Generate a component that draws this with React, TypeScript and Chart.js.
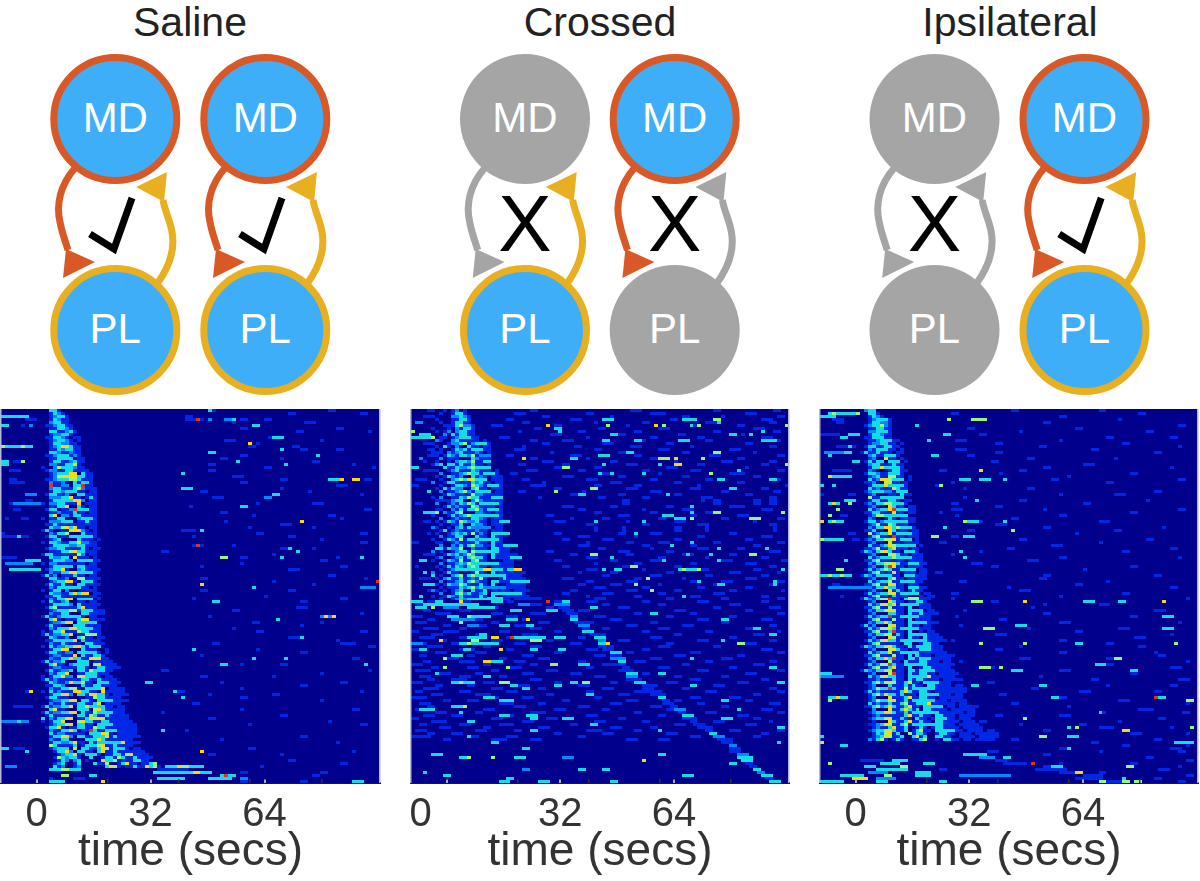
import React, { useEffect, useRef } from "react";
import { Chart, registerables } from "chart.js";
Chart.register(...registerables);

type Streak = [number, number, number, number];

const ROWS = 125;
const COLS = 95;
const T_MIN = -10;
const T_MAX = 96.4;
const grayTicks = [0, 32, 64];
const darkTicks = [20, 40, 60, 80];
const levelColors = ["#0028E4", "#0088FF", "#14DCE6", "#96F878", "#FFD800", "#E63212"];

const salineBandStart = 10;
const salineBand = [
"00331","001321","0012331","0013211","00233110","01123311","00113321","003311231","001223310","0113321011",
"0012332101","00133221100","00123553110","00113233110","00332112110","01123331210","00113333011","00133112311","00221133510","100243332110",
"012211331111","0012333550311","0012455553311","0112333443111","0021122331011","0061122033611","00233011352111","00133223311011","01331122033111","00222335110131",
"00133301552011","10223314450111","00113355331011","01330112633111","00112233311011","00350221331111","10113355220311","00222333011311","01133223311111","00322443511011",
"13100335552101","00213345113111","01330113311011","001233350311101","10332113351111","00133002233111","012233130331011","00111334503111","13311233442011","00322335511101",
"001333220331111","10221133511011","00135533033111","012335102231111","00211335533011","13120333311011","003311233441111","00123355100311","013113330331111","00213355031101",
"10133022351111","003221135331011","01133244011111","002133550331101","10311233511011","001335220311111","01341102335111","0012333441101111","0021133520331111","13112233331011",
"0035103323551111","00122355033101","013113223331111","002133355011311","101335220433111","131223350113111","0032112533411011","011332335031111","0021133441033111","103122335531011",
"00133552033111001","01331122033441101","0012233550311331","00211335331135111","131223350333011111","0035110233330451111","00122355033101331111","013112230331431111","00213355011333111","101335220453311011",
"1312233501331131111","00321125334110331111","0113323350311331111","002113344103313501111","103122335533110511111","0013355203311033101111","01331112330114331111","0012233550331033311111","00211335333113501111","131223350335311111011",
"003511023333045311111","131223355031143511111","0131122303314311311111","3021335501133335111111","10133522045331133111111","001233450331103331111111","013351020331143311111111","002113353011631133111111","003122335110333541011111","0013355203311033513111111",
"00211335110333531111111","0013322351103133111351111","00431233301333451131111","0012333050331135413111011","00013352033110351131111111","000012335103331011331451111","0001432331003001331431131111","000013202301000533411113311","00012300130003114001351101134","000312001200000035410113115341",
];
const salinePatches: Streak[] = [
[24,16,2,0],[24,20,2,3],[26,15,3,1],[27,16,2,3],[28,17,2,0],[30,14,4,3],[31,16,3,1],[32,17,2,0],[33,19,3,3],[34,15,3,1],[36,16,3,0],[36,20,3,3],[38,14,5,1],[39,16,1,5],[40,15,2,1],[41,17,3,0],[42,19,4,3],[43,15,3,0],[44,20,2,2],[45,14,3,3],[46,17,3,1],[47,19,2,3],[48,15,4,1],[49,17,1,0],[50,20,3,3],[51,16,3,1],[52,14,3,3],[53,17,2,0],[54,19,4,3],[55,15,3,1],[56,17,2,0],[57,20,3,3],[58,16,2,1],[59,14,5,3],[60,17,3,0],[61,20,2,5],[62,15,4,1],[63,19,4,3],[64,17,2,0],[65,14,3,3],[66,16,3,1],[67,20,3,3],[68,17,2,0],[69,15,5,3],[70,16,3,1],[71,21,3,3],[72,15,3,0],[73,19,3,3],[74,16,3,1],[75,21,3,4],[76,17,2,0],[77,14,3,3],[78,16,4,1],[79,22,3,3],[80,17,3,0],[81,20,4,3],[82,15,3,1],[83,22,3,5],[84,16,3,0],[85,19,3,3],[86,15,4,1],[87,23,3,3],[88,17,2,0],[89,21,3,3],[90,14,5,1],[91,24,3,3],[92,16,3,0],[93,21,4,3],[94,15,3,1],[95,22,2,5],[96,17,3,0],[97,25,3,3],[98,16,3,1],[99,22,4,3],[100,17,2,0],[101,25,3,3],[102,15,3,1],[103,22,3,5],[104,16,3,0],[105,24,4,3],[106,17,2,1],[107,27,2,3],[108,16,4,1],[109,23,3,3],[110,17,3,0],[111,26,3,3],[112,15,3,1],[113,28,3,3],
];
const salineStreaks: Streak[] = [
[2,0,7,3],[3,6,3,1],[5,0,2,3],[5,5,1,1],[5,7,1,2],[12,0,8,3],[12,0,1,4],[12,5,1,4],[17,0,2,3],[17,5,1,4],[18,0,2,3],[17,3,3,1],[20,2,3,1],[23,2,2,1],[24,2,4,1],[28,6,3,2],[30,6,2,1],[31,3,7,2],[31,2,3,1],[33,3,2,1],[36,5,2,1],[36,1,1,1],[41,0,1,1],[42,0,7,1],[42,4,1,3],[51,1,7,2],[50,6,4,3],[53,2,8,3],[49,0,4,1],[94,7,1,5],[94,6,1,1],[99,3,5,1],[104,0,7,2],[104,4,1,3],[113,0,2,3],[113,3,3,1],[114,6,1,3],[119,1,3,2],
[0,52,1,3],[3,49,1,6],[3,46,5,1],[3,52,1,2],[3,56,3,2],[3,58,1,3],[5,63,2,3],[9,68,3,3],[11,62,1,5],[13,70,1,3],[14,52,2,3],[15,79,1,3],[18,52,2,1],[18,71,1,3],[17,59,1,3],[17,78,2,1],[21,45,1,3],[23,82,3,3],[23,85,1,5],[23,88,2,5],[26,45,3,3],[28,68,2,3],[29,66,2,2],[32,60,2,3],[37,75,1,5],[40,45,4,1],[40,50,1,3],[45,48,3,1],[45,49,1,6],[46,70,3,1],[46,72,1,3],[47,74,1,3],[49,55,2,4],[49,70,1,3],[49,90,1,3],[58,50,1,5],[59,63,1,3],[59,90,4,2],[57,94,1,6],[64,53,2,3],[69,80,4,2],[69,81,1,5],[69,83,1,5],[70,69,1,3],[76,75,1,3],[78,85,4,1],[80,48,1,3],[83,63,1,3],[83,71,1,3],[85,55,2,3],[85,91,1,3],
[91,36,2,3],[94,43,1,3],[96,45,1,3],[107,40,1,3],[114,50,1,5],
[119,41,10,3],[119,44,1,5],[119,45,2,4],[120,12,8,3],[120,15,2,4],[120,39,8,1],[121,38,13,3],[121,48,2,5],[121,51,2,3],[122,55,4,3],[122,56,1,6],[122,15,2,4],[122,22,2,3],[123,39,7,3],[123,52,6,3],[123,12,1,1],[123,18,3,1],[124,25,1,5],[124,12,4,3],[124,60,2,1],[124,75,2,1],[124,88,3,3],[122,78,2,1],[123,60,2,2],[121,60,2,1],
];
const salineTexture = [
[52,2,82,2],[72,2,90,2],[46,2],[60,2,66,2],[58,1,76,3],[],[60,2,84,2],[74,2,92,1],[],[67,2],[56,3,80,1],[64,1],[62,2,73,2],[75,2,84,2],[],[60,2],[55,2,70,1],[],[88,1],[66,2,93,1],[52,2],[95,1],[58,3],[70,2,91,2],[60,2],[84,3],[70,1],[50,2,77,1],[90,1],[53,3],[],[78,3,64,1],[47,1],[91,2],[55,2],[63,1,82,2],[85,1],[56,1],[70,3],[78,1,62,1],[],[64,2,90,2],[48,1,72,2],[80,1],[90,2],[58,1],[78,1],[40,2],[68,1],[60,2,84,1],[80,2],[60,1],[85,2,50,1],[72,3],[],[82,2],[50,2,91,1],[68,1],[78,1],[],[50,2,72,2],[],[66,1],[85,2,48,1],[75,2],[],[74,3],[58,2],[90,1],[52,1],[],[63,2,80,1],[75,1],[58,1],[90,2,64,2],[],[72,3],[84,1],[53,2],[92,2],[64,1],[75,2],[50,1],[88,2],[],[60,1,70,2],[],[40,2,92,1],[80,1],[50,2,68,1],[],[55,1,85,2],[75,2],[60,1],[44,2,90,1],[52,1,68,2],[60,2],[80,1],[48,2],[],[88,2,60,1],[40,1],[70,2],[52,2],[82,1],[62,1,90,2],[],[46,1],[],[75,2],[55,1],[84,1],[],[62,2],[88,1],[52,2,70,1],[],[72,2],[85,2],[65,1],[],[80,2],[],[],
];

const crossedBandStart = 5;
const crossedBand = [
"00010120100","00100133100","00000223210","01000113310","00100133110","00000134221","10001021331","01012023311","00020313311","001101233311",
"02100231311101","000012234121011","010310235311011","001001323113211","111021234312101","000132133241101","002011122332111","010010233241111","123002134231101","000311322342111",
"01001232433211101","002001123433110110","010132121331210111","001002343543110111","200133114232311011","001001332143211011","010313221334110111","002011234211211011","000132123342211111","102001132433111011",
"001012331324211111","020012132431311011","000131234243111101","011002131334211111","000211344332211011","100013123431411101","002001231433210111","010132143223110111","001001134232210111","200010231344111011",
"001301241432110111","0100123231412103111","002011332433110311","100132141332310111","011001232413110311","00200213134221131111","01013224432111033111","20100123314231031111","0001323124311103101111","012001231343310311111",
"100132141234110311111","002011232431410331111","010131321343110133111","00101233423121103111111","200131132314110335111111","00100234134331100331111","010231132421410331311111","002011231342110331111111","010132243114310331011111","001011132342311033111111",
"2001012314311303311101111","002001342311230331011111","1001321314213103311111111","0010012323143113311101111111",
];
const crossedPatches: Streak[] = [
[10,13,2,1],[11,16,3,3],[12,12,2,0],[13,15,3,3],[14,13,2,1],[15,17,3,2],[16,12,3,0],[17,18,2,3],[18,13,2,1],[19,16,4,3],[20,12,3,1],[21,18,3,3],[22,13,2,0],[23,16,3,3],[24,12,3,1],[25,19,3,3],[26,13,2,0],[27,16,4,3],[28,12,3,1],[29,20,3,3],[30,13,2,0],[31,18,4,3],[32,12,3,1],[33,19,3,3],[34,13,3,0],[35,16,6,3],[36,12,3,1],[37,22,3,3],[38,13,2,0],[39,15,5,2],[40,12,4,1],[41,21,4,3],[42,13,3,0],[43,17,5,3],[44,12,3,1],[45,23,4,3],[46,13,2,0],[47,16,6,3],[48,21,2,1],[49,25,3,3],[50,13,2,1],[50,20,3,0],[51,16,4,3],[52,21,2,1],[53,13,10,3],[53,18,2,5],[53,24,4,3],[53,26,2,5],[54,12,3,0],[54,21,2,1],[55,17,6,3],[56,13,2,1],[56,20,2,0],[57,25,5,3],[58,14,3,1],[58,21,2,0],[59,18,6,2],[60,13,2,0],[60,20,2,1],[61,22,6,3],[62,13,3,1],[62,21,2,0],[63,15,8,3],
];
const crossedStreaks: Streak[] = [
[0,4,2,1],[2,3,3,1],[4,1,2,2],[5,8,2,1],[7,0,1,4],[8,2,3,3],[9,0,6,3],[9,5,1,4],[11,3,3,1],[13,4,2,1],[15,4,3,1],[16,2,1,2],[17,3,1,1],[18,9,2,3],[19,0,2,3],[20,3,3,1],[23,1,3,1],[25,0,2,1],[27,4,1,3],[30,6,4,1],[31,1,2,1],[34,3,3,3],[34,6,1,4],[37,3,2,1],[39,5,2,1],[41,4,1,1],[42,7,1,2],[44,0,2,1],[46,6,2,3],[48,3,3,1],[50,2,2,3],[52,1,1,1],[54,3,1,3],[55,5,1,3],[56,2,3,1],[58,3,3,3],[60,4,3,1],[62,2,1,3],
[3,48,3,3],[5,49,1,4],[5,61,1,5],[5,63,1,4],[5,70,1,3],[5,72,1,4],[3,68,4,3],[3,76,2,4],[4,77,1,3],[8,50,2,3],[8,80,2,3],[8,85,1,3],[7,88,1,3],[5,94,1,4],[10,48,2,3],[10,56,2,3],[10,67,3,3],[10,88,4,3],[14,54,2,3],[14,76,2,4],[15,47,3,3],[16,62,3,4],[16,66,1,5],[18,66,2,5],[16,73,1,4],[18,48,1,3],[18,62,1,3],[18,94,1,4],[20,82,1,3],[21,47,1,3],[21,50,1,3],[21,58,1,3],[21,75,1,4],[23,77,2,3],[23,90,2,3],[26,45,2,4],[26,80,2,3],[28,64,1,3],[32,70,1,3],[34,70,1,3],[34,76,2,4],[34,93,1,4],[35,63,3,3],[36,66,3,3],[36,70,1,4],[36,85,3,4],[37,58,1,3],[41,56,1,3],[44,70,1,3],[45,65,1,3],[46,77,1,3],[46,89,1,3],[48,45,2,4],[48,69,1,3],[48,75,1,3],[48,85,2,4],[49,50,1,3],[50,63,1,3],[50,77,1,3],[52,55,2,4],[53,48,1,3],[53,51,2,3],[53,67,6,3],[53,68,1,4],[53,72,1,4],[53,93,1,3],[56,59,1,4],[57,72,1,3],[57,91,1,3],[58,56,1,4],[58,77,2,3],[58,91,1,3],[60,60,1,4],[62,68,1,3],
[5,34,1,5],[6,36,2,3],[7,37,1,3],[16,40,2,3],[16,28,1,5],[19,38,2,4],[27,36,1,4],[28,42,2,3],[37,46,1,3],
[64,0,3,3],[64,6,2,3],[64,12,1,5],[64,20,3,3],[64,34,1,6],[65,3,10,3],[65,13,4,3],[65,27,3,2],[66,1,3,3],[66,5,1,4],[66,8,4,2],[66,14,7,3],[67,25,3,3],[67,34,3,3],[69,9,3,3],[69,15,5,3],[69,14,1,4],[70,10,6,2],[70,24,3,3],[71,12,1,4],[70,29,1,5],[72,14,3,2],[72,22,3,3],[72,29,2,3],[75,17,2,3],[76,20,2,5],[76,25,1,6],[76,14,5,3],[76,26,8,3],[76,28,2,3],[76,36,3,3],[77,7,1,5],[77,15,2,4],[77,30,3,4],[78,0,3,2],[78,12,10,3],[78,14,1,4],[80,2,2,3],[80,13,2,3],[80,22,1,5],[80,30,2,3],[80,37,2,3],[82,10,3,3],[83,8,1,4],[84,18,2,5],[84,20,3,3],[85,42,3,3],[85,35,2,4],[86,8,1,4],[86,24,1,4],[88,6,1,3],[89,18,2,3],[91,10,6,3],[91,12,1,4],[91,22,3,4],[91,40,2,3],[91,43,2,4],[92,25,2,3],[92,36,2,3],[93,28,2,3],[96,18,3,3],[97,22,4,3],[99,10,3,3],[99,13,1,4],[100,2,4,3],[101,12,1,3],[102,22,3,3],[102,29,3,3],[103,30,2,3],[103,38,3,3],[104,14,2,3],[107,30,2,3],[109,14,1,3],[111,20,2,3],[113,28,2,3],[115,5,3,3],[116,12,2,3],[116,14,1,4],[116,20,1,4],[116,26,3,3],[116,38,3,2],[120,28,2,2],[120,42,2,3],[121,3,1,3],[122,8,2,3],[123,24,2,3],[124,22,3,3],[124,32,3,3],
[66,45,2,3],[68,60,2,3],[70,78,2,3],[73,86,2,3],[75,90,2,3],[77,78,1,3],[78,82,2,4],[83,70,1,3],[86,90,2,3],[88,62,2,3],[91,92,2,3],[92,70,2,3],[97,78,2,3],[100,82,1,3],[103,78,3,3],[106,92,2,3],[111,92,1,3],[118,80,2,3],[122,68,3,3],[107,62,1,3],[115,62,2,3],[117,58,1,5],[120,48,2,3],[124,50,2,3],[105,45,2,3],[95,44,2,3],
];
const crossedDiagonal: Streak[] = [
[64,36,3,1],[64,38,2,3],[65,36,4,2],[66,37,3,1],[67,38,3,1],[68,39,3,1],[69,40,2,2],[70,40,2,3],[71,41,3,1],[72,42,3,2],[73,43,2,1],[74,43,3,3],[75,45,2,1],[76,46,3,3],[77,47,2,2],[78,47,3,3],[78,49,1,5],[79,47,4,1],[80,48,3,1],[81,50,3,3],[82,50,3,1],[83,50,4,2],[84,52,2,3],[85,51,3,1],[86,53,2,1],[87,53,3,1],[88,54,3,3],[89,54,3,2],[90,55,3,1],[91,56,3,3],[92,58,2,1],[93,58,3,1],[94,59,4,1],[95,60,3,1],[96,62,2,3],[97,63,2,1],[98,63,3,1],[99,65,2,1],[100,66,3,2],[101,67,2,1],[102,68,3,3],[103,69,3,1],[104,70,2,1],[105,71,3,1],[106,72,3,1],[107,74,2,1],[108,75,2,3],[109,76,3,2],[110,77,2,1],[111,78,3,1],[112,80,2,2],[113,80,3,1],[114,80,3,1],[115,82,3,2],[116,82,4,3],[117,83,3,3],[118,84,2,1],[119,85,2,1],[120,86,2,3],[121,87,2,2],[122,88,3,3],[123,89,2,1],[124,90,3,3],
];
const crossedTexture = [
[30,2,55,3,76,2,91,2],[26,3,44,2,60,4,84,3],[33,2,50,1,68,2,78,1,92,2],[24,2,40,3,65,2,88,3],[28,2,46,1,58,2,74,3,90,2],[20,3,36,2,54,1,70,2,82,2],[31,2,47,2,62,3,86,3],[27,1,42,2,56,2,76,2,91,2],[35,3,52,2,67,2,83,1],[22,3,44,1,60,2,72,2,88,3],
[30,2,38,3,58,1,74,2,92,1],[33,2,48,3,64,2,84,2],[28,1,41,2,55,3,70,1,90,2],[26,3,46,2,62,3,80,3],[35,1,52,2,68,2,86,1],[24,2,40,3,56,2,75,3,92,2],[30,2,44,1,60,2,82,2],[33,3,50,2,66,1,78,3,90,2],[27,2,38,2,54,3,72,2,88,2],[36,2,46,2,64,3,84,1],
[29,3,42,2,58,2,70,3,92,2],[25,2,48,2,62,1,80,4],[38,3,52,2,68,2,86,2],[28,2,44,3,60,2,74,2,90,3],[33,1,50,3,66,2,82,2],[30,4,46,2,56,2,72,1,94,1],[36,2,54,3,70,3,88,2],[27,2,43,1,60,3,78,2,91,2],[40,3,52,2,66,2,84,2],[32,1,47,2,58,2,73,3,90,2],
[53,2,73,1,76,2,86,2,90,2],[53,2,76,2,86,2,90,2],[38,3,50,2,64,2,80,4],[42,2,58,1,68,3,88,3],[46,2,60,2,74,2,93,1],[34,2,52,3,70,2,82,3],[40,1,48,2,62,2,78,2,92,2],[36,3,54,1,66,3,86,1],[44,2,58,2,72,3,90,2],[46,1,53,1,66,2,74,1,91,1],
[46,1,53,1,66,2,74,1,91,1],[36,2,52,2,60,3,80,2],[42,3,56,1,72,2,88,3],[38,2,48,3,66,2,84,2],[44,1,54,2,62,3,76,2,92,2],[42,3,58,2,70,2,86,2],[47,2,60,1,72,3,82,2],[34,2,52,3,64,2,90,3],[40,2,54,2,68,3,80,2],[44,3,62,2,74,1,88,2],
[36,2,50,2,60,3,78,3,93,2],[46,1,56,2,70,2,84,3],[38,2,53,3,66,2,90,2],[44,3,58,1,72,3,86,2],[42,1,50,2,64,2,80,3,92,1],[48,2,60,3,74,2,88,2],[38,3,56,2,68,1,84,3],[44,2,54,3,70,2,78,3,92,2],[42,2,50,3,62,1,76,2,90,2],[46,3,58,2,72,2,84,2],
[40,2,54,3,66,2,80,2,93,1],[38,2,48,3,62,2,76,3],[44,1,56,2,70,3,88,2],[46,3,64,2,78,2,92,2],
[4,4,12,3,24,2,44,3,58,2,72,3,88,2],[1,5,15,2,30,3,48,2,62,2,80,3],[8,3,18,4,34,2,52,3,76,2,90,3],[3,2,12,3,26,2,42,3,66,3,84,2],[6,4,20,3,30,4,56,2,70,2,92,2],[0,3,10,2,24,3,46,3,64,2,80,2],[4,2,14,4,28,2,50,3,72,3,88,3],[1,3,20,2,32,3,44,2,60,2,78,2],[8,2,16,3,26,4,54,3,68,3,90,2],[3,4,12,2,30,3,48,2,62,3,84,3],
[0,2,8,4,22,3,36,2,58,2,74,2,92,1],[5,3,16,2,28,4,46,3,66,2,86,3],[2,4,12,3,24,2,42,2,60,3,80,2],[7,2,20,3,34,2,52,3,72,3,90,2],[1,3,10,2,26,3,40,3,64,2,84,3],[4,4,18,2,30,3,48,2,62,3,76,2],[0,2,12,4,24,2,44,3,58,2,88,3],[6,3,16,3,36,2,54,2,70,3,92,2],[2,2,14,2,28,3,46,3,66,3,82,2],[8,4,22,2,32,3,50,2,60,3,78,3],
[3,2,12,4,26,3,42,2,56,3,74,2,90,2],[0,3,18,2,30,2,48,3,68,2,86,3],[5,2,14,3,24,4,44,2,62,3,80,2],[1,4,20,2,34,3,52,2,72,3,92,2],[7,3,16,2,28,3,40,3,58,2,84,3],[2,3,12,3,22,2,46,3,66,2,78,2],[4,2,10,4,30,3,54,3,70,3,88,2],[0,3,18,3,36,2,50,2,64,3,82,3],[6,2,14,2,26,4,42,3,60,2,76,3],[3,4,20,3,32,2,48,3,68,2,90,2],
[1,2,12,3,24,3,44,2,56,3,74,3,92,2],[5,3,16,4,34,2,52,3,62,2,86,2],[0,4,20,2,28,3,46,2,70,3,80,3],[8,2,14,3,38,2,54,3,66,2,84,2],[2,3,22,4,32,2,50,3,72,2,90,3],[4,2,12,2,26,3,42,3,60,3,78,2],[1,4,18,3,36,3,48,2,64,2,88,3],[6,3,16,2,30,4,56,2,74,3,92,2],[3,3,10,3,24,2,44,3,62,2,82,3],[0,2,20,3,34,3,52,2,68,3,86,2],
[5,4,14,2,28,3,46,3,58,2,76,3,90,1],[2,2,12,3,22,4,40,2,66,3,84,3],[7,3,18,2,32,3,50,3,60,2,72,4],[1,3,16,3,26,2,44,4,56,2,80,3,92,2],[4,2,10,3,36,2,48,3,64,3,88,2],[0,5,14,3,24,3,42,2,70,3,86,2],[8,2,20,4,30,3,54,3,62,3,78,3],
];

const ipsiBandStart = 10;
const ipsiBand = [
"0233","00331","001321","00123331","00133221","01233421","00113311","00223331","00133211","011333110",
"0011233311","00122331101","01331133110","00213331101","13113311011","00231133510","00123351101","013133036101","00233211311","00133533211",
"002133113311","013321135110","0012334441101","0031255431101","011233451101","001333534111","003123335311","012333221311","0012433110311","004113335110",
"0013355331011","012133443111","00124335311011","00312335611011","01133321511011","001244333111","00213333101111","01331233511011","001243343111","00213355341011",
"011322353111011","004123351101111","001342536110111","012133445111101","001234351101111","0031123543111101","011243335111011","132134531101111","0012433453110111","0031233345110111",
"0113425311101111","00213344531101111","0012333651101111","01312343110111011","00134254510111011","13213333110111111","00124453411011111","0031233411033111","011342455110111","00213353311033111",
"0012444513101311","013123345113111011","0013425331110331011","132134461103311111","00124335311011331","003124535110333111","011342341110333111","0021334551103311011","00124453311031331111","013123361103311111",
"001342454110331111","00213353111033111111","131243345110331011","003124453110133111","0113425361103311011","00213344131033311111","001243354110331031111","0131245331103311311111","00134236110331013311","132133453110311333111",
"001244545311031333111","0031233511103331111111","011342454110333111011111","00213353611033110111111","00124334110311333111011","013124463110331311111111","00134253511033113311111","132133451110331333111111","0012433461103113311011111","003124533110311335111111",
"00112345311031331111011111","01134245411351103311111","00123353111313110331111011","001243363114113311311111111","013124451135311331011111111","00134253313111033511111011","00123345111351133110111111","001243345113133311111101111","003124531134113335111111011","011342353113511033111011011111",
"00021345113531303311110111011","00123354311313511033111111011","00012433111351131103311101111","0012334511311031101331110111","00013245311351131103311110111011","001123541134133511033111011111","0001243351130013101331111011111","0012334531130135110331111101111011","00013245130041331001331101110111111",
"00012354113003513003311001111011111","0021341013100113400103311011011111",
];
const ipsiPatches: Streak[] = [
[14,15,2,1],[15,17,2,3],[16,14,2,0],[17,17,3,3],[18,15,2,1],[19,18,2,3],[20,14,3,0],[21,17,3,3],[22,15,2,1],[23,19,2,3],[24,14,2,0],[25,18,3,3],[26,15,3,1],[27,19,3,3],[28,14,3,0],[29,18,3,3],[30,15,2,1],[31,19,2,3],[32,14,3,0],[33,19,3,3],[34,15,2,1],[35,19,3,3],[36,14,3,0],[37,18,4,3],[38,15,2,1],[39,20,3,3],[40,14,3,0],[41,19,4,3],[42,15,3,1],[43,20,3,3],[44,14,3,0],[45,20,4,3],[46,15,2,1],[47,21,3,3],[48,14,3,0],[49,19,4,3],[50,15,3,1],[51,22,3,3],[52,14,2,0],[53,20,4,3],[54,15,3,1],[55,21,3,3],[56,14,3,0],[57,20,4,3],[58,15,2,1],[59,22,3,3],[60,14,3,0],[61,20,5,3],[62,15,3,1],[62,23,2,0],[63,22,3,4],[64,14,3,0],[64,23,1,1],[65,20,5,3],[66,15,2,1],[66,23,2,0],[67,22,4,3],[68,14,3,0],[68,23,2,1],[69,20,5,3],[70,15,3,1],[70,23,1,0],[71,22,5,3],[72,14,3,0],[72,23,2,1],[73,20,4,3],[74,15,2,1],[74,23,2,0],[75,24,3,3],[76,14,3,0],[76,23,1,1],[77,20,6,3],[78,15,3,1],[78,23,2,0],[79,24,4,3],[80,14,3,0],[80,23,2,1],[81,20,5,3],[82,15,3,1],[82,23,1,0],[83,25,3,3],[84,14,3,0],[84,23,2,1],[85,21,6,3],[86,15,2,1],[86,23,2,0],[87,26,3,3],[88,14,3,0],[89,22,5,3],[90,15,3,1],[91,26,4,3],[92,14,3,0],[93,23,5,3],[94,15,3,1],[95,27,3,3],[96,14,3,0],[97,23,6,3],[98,15,2,1],[99,28,3,3],[100,14,3,0],[101,24,5,3],[102,15,3,1],[103,29,3,3],[104,14,3,0],[105,25,5,3],[106,15,2,1],[107,31,3,3],
];
const ipsiStreaks: Streak[] = [
[1,2,8,3],[1,3,1,4],[1,9,1,4],[2,0,4,3],[3,3,3,1],[4,4,2,1],[8,0,5,1],[9,5,2,3],[8,7,3,3],[12,4,5,1],[12,7,1,3],[14,1,5,2],[14,6,2,3],[15,2,1,3],[17,8,2,3],[20,3,5,1],[22,2,6,3],[22,2,1,5],[25,0,1,3],[25,3,1,3],[28,0,1,1],[28,7,2,1],[30,6,3,3],[31,2,3,3],[31,3,1,5],[31,7,1,4],[33,4,1,4],[35,2,1,4],[35,5,2,1],[37,0,1,5],[37,2,4,3],[37,3,1,4],[41,7,2,1],[43,0,6,3],[43,0,1,4],[43,8,2,1],[50,6,1,3],[53,4,2,4],[55,0,8,3],[55,2,1,4],[55,5,1,4],[58,3,2,1],[59,2,10,2],[62,5,1,1],
[3,32,1,4],[3,38,3,4],[3,41,1,4],[5,24,1,3],[8,31,2,3],[10,27,1,3],[15,28,2,3],[20,40,1,5],[23,35,3,3],[23,40,3,3],[23,46,1,3],[25,30,1,4],[30,39,1,3],[33,33,3,1],[37,36,4,3],[37,36,1,4],[37,46,1,3],[39,31,1,3],[42,28,2,4],[42,36,3,3],[40,48,1,4],[47,35,1,3],[49,36,1,3],[64,38,3,4],[64,51,1,5],[64,66,3,3],[64,75,2,3],[64,86,1,5],[69,86,3,3],[73,41,3,4],[72,49,3,3],[73,86,3,3],[78,40,1,4],[78,51,1,4],[78,64,2,3],[78,89,1,4],[85,69,3,3],[83,74,2,4],[86,40,3,4],[86,45,1,4],[87,48,3,3],[87,78,2,3],[92,38,2,3],[92,55,2,3],[96,84,1,6],[96,85,1,3],[96,86,1,3],[97,92,2,4],[96,58,2,3],[101,70,1,3],[103,51,1,4],[106,64,1,4],[106,62,1,3],[107,76,2,5],[109,55,2,4],[109,62,3,3],[111,89,5,3],[106,93,1,4],[113,62,1,3],[118,53,1,6],[119,58,3,3],[119,77,2,4],[121,64,2,5],[122,35,13,2],[123,76,1,3],[124,70,2,4],[124,79,2,4],
[88,0,3,3],[89,0,6,2],[96,2,5,3],[96,4,1,5],[97,2,1,4],[109,0,1,3],[111,0,1,4],[112,5,2,3],[118,2,1,4],[122,5,6,3],[123,8,4,5],[124,0,6,3],[117,10,6,1],[117,18,4,3],[118,15,5,3],[118,26,3,3],[119,11,3,3],[119,20,2,4],[120,14,8,3],[120,30,2,1],[121,12,5,2],[121,24,4,3],[122,16,2,4],[122,24,4,3],[123,14,5,2],[124,14,3,3],[124,30,2,3],
[115,36,6,3],[116,40,4,2],[114,42,3,1],[116,46,2,3],[117,44,3,1],[118,46,6,1],[119,56,4,1],[120,54,8,1],[121,60,5,1],[122,66,5,1],[123,64,7,1],[124,72,6,1],[124,76,2,4],
];
const ipsiTexture = [
[48,2,70,2],[33,2,80,2],[60,2],[40,2,75,1],[56,2],[90,2],[37,2,64,2],[50,1,82,2],[40,2],[72,2,88,2],
[34,3,60,1],[44,2,76,2],[55,2,90,1],[34,3,68,2],[44,2,84,2],[37,2],[52,2,74,1],[43,2],[66,3],[88,1,56,2],
[30,2,50,2],[45,1,78,2],[62,1],[58,2,90,2],[33,1,72,2],[29,2],[36,1,52,2],[84,2],[60,1,74,3],[36,1],
[50,2,82,1],[33,2,66,2],[44,2],[90,2,56,1],[30,1,78,2],[34,1,60,2],[48,2],[70,3,40,1],[44,3],[56,2,86,1],
[37,2,74,2],[64,1],[33,2],[50,2,82,2],[30,2,70,1],[58,3],[47,2,88,2],[40,1,76,2],[33,1],[60,2,90,1],
[52,3],[38,3],[43,2,78,2],[66,1],[29,2],[84,2,56,2],[55,2],[35,2,72,1],[64,2],[47,1,88,2],
[50,3],[33,2,76,2],[60,1],[33,1,92,1],[43,2],[70,3,56,1],[53,1],[36,1,84,3],[56,2],[34,1,78,2],
[45,2],[60,3,90,1],[35,1],[75,3,52,1],[64,2],[44,3,88,1],[79,3],[33,1,60,2],[72,2],[80,2,50,1],
[44,2],[60,2,84,1],[85,2],[50,3,72,2],[35,1,92,1],[70,4],[42,2,88,3],[60,3],[33,1,78,2],[55,1],
[68,2,90,3],[42,2],[72,1,88,2],[53,2],[65,3,84,2],[45,2],[60,2],[75,3],[48,2,92,1],[62,1],
[35,3,80,4],[70,2,91,2],[44,2,60,3],[85,2],[75,1],[50,1,65,2],[70,4,88,1],[56,2],[78,3,92,1],[62,3],
[48,2,84,2],[68,2],[76,2,92,1],[88,3,60,2],[90,2,70,1],[56,2],[82,2],[92,2],[78,2,60,1],[90,1],
[85,3],[70,2],[92,2],[84,2],[90,2],
];

const panels = [
  { left: 1, width: 379, band: salineBand, bandStart: salineBandStart, patches: salinePatches, extra: [salineStreaks], texture: salineTexture, tickAt: [0, 32, 64] },
  { left: 411, width: 378, band: crossedBand, bandStart: crossedBandStart, patches: crossedPatches, extra: [crossedStreaks, crossedDiagonal], texture: crossedTexture, tickAt: [-7.3, 32, 64] },
  { left: 820, width: 378, band: ipsiBand, bandStart: ipsiBandStart, patches: ipsiPatches, extra: [ipsiStreaks], texture: ipsiTexture, tickAt: [0, 32, 64] },
];
const tickLabels = ["0", "32", "64"];
const xTitle = "time (secs)";

function binToTime(col: number) {
  return T_MIN + ((col + 0.5) * (T_MAX - T_MIN)) / COLS;
}

function cellImage(color: string, w: number, h: number) {
  const c = document.createElement("canvas");
  c.width = w;
  c.height = h;
  const g = c.getContext("2d")!;
  g.fillStyle = color;
  g.fillRect(0, 0, w, h);
  return c;
}

function buildLevels(band: string[], start: number, patches: Streak[], extra: Streak[][], texture: number[][]) {
  const grid = new Map<string, number>();
  const put = (r: number, c: number, v: number) => {
    const k = r + ":" + c;
    grid.set(k, Math.max(grid.get(k) ?? 0, v));
  };
  band.forEach((s, r) => {
    for (let i = 0; i < s.length; i++) {
      const v = Number(s[i]);
      if (v > 0) put(r, start + i, v);
    }
  });
  patches.forEach(([r, c, l, v]) => {
    for (let i = 0; i < l; i++) grid.set(r + ":" + (c + i), v);
  });
  texture.forEach((pairs, r) => {
    for (let i = 0; i + 1 < pairs.length; i += 2) {
      for (let j = 0; j < pairs[i + 1]; j++) put(r, pairs[i] + j, 1);
    }
  });
  extra.forEach((list) =>
    list.forEach(([r, c, l, v]) => {
      for (let i = 0; i < l; i++) put(r, c + i, v);
    })
  );
  const out: { x: number; y: number }[][] = levelColors.map(() => []);
  grid.forEach((lv, k) => {
    const [r, c] = k.split(":").map(Number);
    if (c < COLS && lv > 0) out[lv - 1].push({ x: binToTime(c), y: r + 0.5 });
  });
  return out;
}

const PAD_X = 10;
const CANVAS_TOP = 405;

const frame = {
  id: "frame",
  beforeDatasetsDraw(chart: any) {
    const { ctx, chartArea: a } = chart;
    ctx.save();
    ctx.fillStyle = "#00008C";
    ctx.fillRect(a.left, a.top, a.right - a.left, a.bottom - a.top);
    ctx.restore();
  },
  afterDatasetsDraw(chart: any) {
    const { ctx, chartArea: a, scales } = chart;
    ctx.save();
    ctx.fillStyle = "#B4B8D8";
    ctx.fillRect(a.left - 1, a.top, 1.5, a.bottom - a.top);
    ctx.fillRect(a.right - 1, a.top, 1.5, a.bottom - a.top);
    ctx.fillStyle = "#AAAAAA";
    grayTicks.forEach((t) => ctx.fillRect(Math.round(scales.x.getPixelForValue(t)) - 1, a.bottom - 3.5, 2, 3.5));
    ctx.fillStyle = "#333333";
    darkTicks.forEach((t) => ctx.fillRect(Math.round(scales.x.getPixelForValue(t)) - 1, a.bottom - 4, 1.5, 4));
    ctx.restore();
  },
};

function Heat({ panel }: { panel: (typeof panels)[number] }) {
  const ref = useRef<HTMLCanvasElement>(null);
  useEffect(() => {
    const levels = buildLevels(panel.band, panel.bandStart, panel.patches, panel.extra, panel.texture);
    const w = Math.ceil(panel.width / COLS);
    const h = Math.round(376 / ROWS);
    const chart = new Chart(ref.current!, {
      type: "scatter",
      data: {
        datasets: levelColors.map((color, i) => ({
          data: levels[i],
          pointStyle: cellImage(color, w, h) as any,
          pointRadius: 2,
          backgroundColor: color,
          borderWidth: 0,
        })),
      },
      plugins: [frame],
      options: {
        animation: false,
        responsive: false,
        events: [],
        layout: { padding: { left: PAD_X, right: PAD_X, top: 0, bottom: 0 } },
        plugins: { legend: { display: false }, tooltip: { enabled: false } },
        scales: {
          x: {
            type: "linear",
            min: T_MIN,
            max: T_MAX,
            grid: { display: false, drawTicks: false },
            border: { display: true, color: "#1c1c1c", width: 2 },
            afterBuildTicks: (s: any) => {
              s.ticks = panel.tickAt.map((value) => ({ value }));
            },
            afterFit: (s: any) => {
              s.height = 98;
            },
            ticks: {
              autoSkip: false,
              maxRotation: 0,
              padding: 8,
              color: "#333333",
              font: { family: "Liberation Sans", size: 40 },
              callback: (v: any) => tickLabels[panel.tickAt.indexOf(Number(v))] ?? "",
            },
            title: {
              display: true,
              text: xTitle,
              color: "#333333",
              font: { family: "Liberation Sans", size: 46 },
              padding: { top: 0, bottom: 1 },
            },
          },
          y: { type: "linear", display: false, reverse: true, min: 0, max: ROWS },
        },
      },
    } as any);
    return () => chart.destroy();
  }, [panel]);
  return (
    <canvas
      ref={ref}
      width={panel.width + 2 * PAD_X}
      height={881 - CANVAS_TOP}
      style={{ position: "absolute", left: panel.left - PAD_X, top: CANVAS_TOP, display: "block" }}
    />
  );
}

const BLUE = "#3FAEF9";
const GRAY = "#A5A5A5";
const ORANGE = "#D95926";
const GOLD = "#E8AF20";

function Pair({ cx, mdOn, plOn, mark }: { cx: number; mdOn: boolean; plOn: boolean; mark?: string }) {
  const dx = cx - 115.3;
  const mdStroke = mdOn ? ORANGE : GRAY;
  const plStroke = plOn ? GOLD : GRAY;
  return (
    <g fontFamily="Liberation Sans" fontSize={42} fill="#fff" textAnchor="middle">
      <g transform={`translate(${dx},0)`}>
        <path d="M75,168 C60,185 56,205 60,222 C62,233 65,240 68,250" fill="none" stroke={mdStroke} strokeWidth={7} />
        <polygon points="66,249 95,262 63,278" fill={mdStroke} />
        <path d="M157,284 C170,266 175,248 172,232 C170,220 165,212 163,200" fill="none" stroke={plStroke} strokeWidth={7} />
        <polygon points="167,172 136,187 164,202" fill={plStroke} />
      </g>
      <circle cx={cx} cy={119} r={mdOn ? 61.5 : 65} fill={mdOn ? BLUE : GRAY} stroke={mdOn ? ORANGE : "none"} strokeWidth={7} />
      <circle cx={cx} cy={330} r={plOn ? 61.5 : 65} fill={plOn ? BLUE : GRAY} stroke={plOn ? GOLD : "none"} strokeWidth={7} />
      <text x={cx} y={132}>MD</text>
      <text x={cx} y={343}>PL</text>
      {mark === "check" ? (
        <polyline
          transform={`translate(${dx},0)`}
          points="90,234 114,249 132,198"
          fill="none"
          stroke="#000"
          strokeWidth={7}
        />
      ) : null}
      {mark === "x" ? (
        <text x={cx} y={251} fontSize={80} fill="#000">X</text>
      ) : null}
    </g>
  );
}

export default function App() {
  return (
    <div style={{ position: "absolute", left: 0, top: 0, width: 1200, height: 881, background: "#fff", overflow: "hidden" }}>
      <svg width={1200} height={405} style={{ position: "absolute", left: 0, top: 0 }}>
        <g fontFamily="Liberation Sans" fontSize={41} fill="#222" textAnchor="middle">
          <text x={190} y={36}>Saline</text>
          <text x={600} y={36}>Crossed</text>
          <text x={1010} y={36}>Ipsilateral</text>
        </g>
        <Pair cx={115.3} mdOn plOn mark="check" />
        <Pair cx={265.3} mdOn plOn mark="check" />
        <Pair cx={525} mdOn={false} plOn mark="x" />
        <Pair cx={674.7} mdOn plOn={false} mark="x" />
        <Pair cx={934.5} mdOn={false} plOn={false} mark="x" />
        <Pair cx={1084.5} mdOn plOn mark="check" />
      </svg>
      {panels.map((p) => (
        <Heat key={p.left} panel={p} />
      ))}
    </div>
  );
}
